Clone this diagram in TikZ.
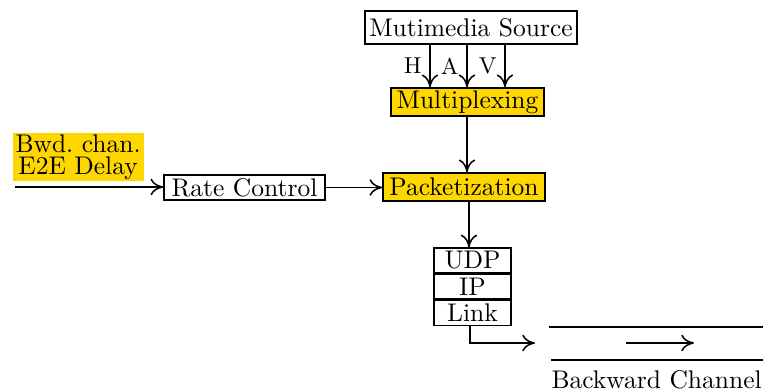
\documentclass[tikz,border=0pt]{standalone}
\usetikzlibrary{arrows.meta}
\definecolor{gold}{RGB}{255,215,0}
\begin{document}
\begin{tikzpicture}[x=0.392pt,y=-0.392pt,
  blk/.style={draw, semithick, inner sep=0pt, font=\normalsize},
  hl/.style={fill=gold},
  conn/.style={-{To[length=5pt,width=6.5pt]}, semithick},
  lbl/.style={font=\small, inner sep=0pt},
  chan/.style={semithick}]
\useasboundingbox (0,0) rectangle (763,390);
\node[blk, minimum width=83.1pt, minimum height=12.9pt] (src) at (471,27.5) {Mutimedia Source};
\node[blk, hl, minimum width=60pt, minimum height=11pt] (mux) at (467.5,102) {Multiplexing};
\node[blk, hl, minimum width=63.5pt, minimum height=11pt] (pkt) at (464,187) {Packetization};
\node[blk, minimum width=63.1pt, minimum height=9.8pt] (rate) at (244.5,187.5) {Rate Control};
\node[blk, minimum width=30.2pt, minimum height=9.7pt] (udp) at (472.5,260.5) {UDP};
\node[blk, minimum width=30.2pt, minimum height=9.7pt, anchor=north] (ip) at (udp.south) {IP};
\node[blk, minimum width=30.2pt, minimum height=9.7pt, anchor=north] (link) at (ip.south) {Link};
\node[hl, align=center, inner ysep=0.8pt, inner xsep=1.2pt, anchor=south west, font=\normalsize] (delay) at (12,182) {Bwd.\ chan.\\[-3.5pt]E2E Delay};
\coordinate (in) at (15,187);
% H A V
\coordinate (h) at (430,0);
\coordinate (a) at (467,0);
\coordinate (v) at (505,0);
\draw[conn] (src.south -| h) -- node[lbl, left=3pt] {H} (mux.north -| h);
\draw[conn] (src.south -| a) -- node[lbl, left=3pt] {A} (mux.north -| a);
\draw[conn] (src.south -| v) -- node[lbl, left=3pt] {V} (mux.north -| v);
\coordinate (mp) at (467,0);
\draw[conn] (mux.south -| mp) -- (pkt.north -| mp);
\draw[conn] (in) -- (in -| rate.west);
\draw[conn] (rate.east) -- (rate.east -| pkt.west);
\coordinate (pu) at (469,0);
\draw[conn] (pkt.south -| pu) -- (udp.north -| pu);
\coordinate (lk) at (470,343);
\coordinate (ce) at (535,343);
\draw[conn] (link.south -| lk) -- (lk) -- (ce);
\coordinate (t1) at (549,327);
\coordinate (t2) at (763,327);
\coordinate (b1) at (551,360);
\coordinate (b2) at (763,360);
\coordinate (m1) at (626,343);
\coordinate (m2) at (694,343);
\draw[chan] (t1) -- (t2);
\draw[chan] (b1) -- (b2);
\draw[conn] (m1) -- (m2);
\node[anchor=north west, inner sep=0pt, font=\normalsize] (bc) at (551,370) {Backward Channel};
\end{tikzpicture}
\end{document}
